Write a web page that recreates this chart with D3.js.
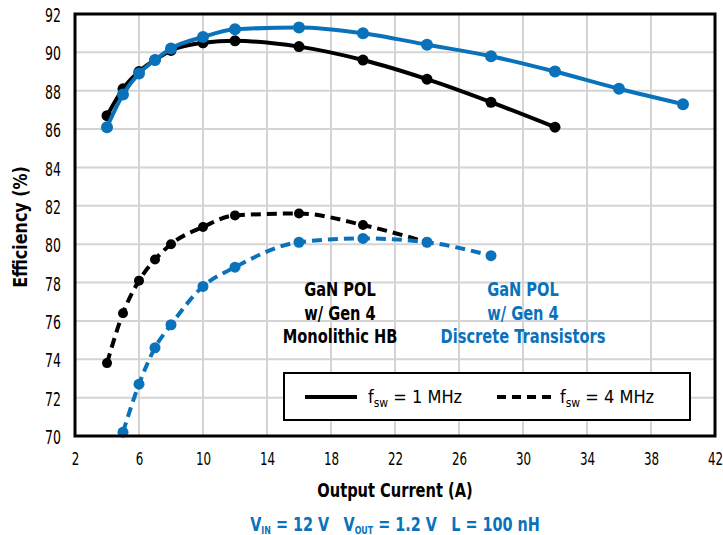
<!DOCTYPE html>
<html>
<head>
<meta charset="utf-8">
<script src="https://cdn.jsdelivr.net/npm/d3@7"></script>
<style>
  body { margin: 0; background: #fff; }
  svg text { font-family: "DejaVu Sans", sans-serif; }
</style>
</head>
<body>
<svg id="chart" width="723" height="535"></svg>
<script>
// Output current (A) for each measured point
const currentMono1 = [4, 5, 6, 7, 8, 10, 12, 16, 20, 24, 28, 32];
const effMono1     = [86.7, 88.1, 89.0, 89.6, 90.1, 90.5, 90.6, 90.3, 89.6, 88.6, 87.4, 86.1];

const currentDisc1 = [4, 5, 6, 7, 8, 10, 12, 16, 20, 24, 28, 32, 36, 40];
const effDisc1     = [86.1, 87.8, 88.9, 89.6, 90.2, 90.8, 91.2, 91.3, 91.0, 90.4, 89.8, 89.0, 88.1, 87.3];

const currentMono4 = [4, 5, 6, 7, 8, 10, 12, 16, 20, 24];
const effMono4     = [73.8, 76.4, 78.1, 79.2, 80.0, 80.9, 81.5, 81.6, 81.0, 80.1];

const currentDisc4 = [5, 6, 7, 8, 10, 12, 16, 20, 24, 28];
const effDisc4     = [70.2, 72.7, 74.6, 75.8, 77.8, 78.8, 80.1, 80.3, 80.1, 79.4];

const xTicks = [2, 6, 10, 14, 18, 22, 26, 30, 34, 38, 42];
const yTicks = [70, 72, 74, 76, 78, 80, 82, 84, 86, 88, 90, 92];

const BLUE = "#0a72bb";
const BLACK = "#000";
// horizontal squeeze that gives the wide fallback font a condensed look
const TICK_SQ = 0.66;
const BOLD_SQ = 0.77;
const COND_SQ = 0.72;
const YLAB_SQ = 0.84;
const LEG_SQ = 0.9;

const svg = d3.select("#chart");
const m = { left: 75, right: 715, top: 14, bottom: 436 };

const x = d3.scaleLinear().domain([2, 42]).range([m.left, m.right]);
const y = d3.scaleLinear().domain([70, 92]).range([m.bottom, m.top]);

// grid
const grid = svg.append("g");
grid.selectAll(".vg").data(xTicks).join("line")
  .attr("x1", d => x(d)).attr("x2", d => x(d))
  .attr("y1", m.top).attr("y2", m.bottom)
  .attr("stroke", "#d4d4d4").attr("stroke-width", 2);
grid.selectAll(".hg").data(yTicks).join("line")
  .attr("x1", m.left).attr("x2", m.right)
  .attr("y1", d => y(d)).attr("y2", d => y(d))
  .attr("stroke", "#d4d4d4").attr("stroke-width", 2);

// axes (labels only; frame drawn separately)
const xAxis = svg.append("g").attr("transform", `translate(0,${m.bottom})`)
  .call(d3.axisBottom(x).tickValues(xTicks).tickSize(0).tickPadding(16));
xAxis.select(".domain").remove();
xAxis.selectAll("text").attr("font-size", 18).attr("fill", "#000")
  .attr("transform", `scale(${TICK_SQ},1)`);

const yAxis = svg.append("g").attr("transform", `translate(${m.left},0)`)
  .call(d3.axisLeft(y).tickValues(yTicks).tickSize(0));
yAxis.select(".domain").remove();
yAxis.selectAll("text").attr("font-size", 19).attr("fill", "#000")
  .attr("x", -14 / TICK_SQ).attr("dy", "0.4em")
  .attr("transform", `scale(${TICK_SQ},1)`);

// series
const series = [
  { xs: currentMono4, ys: effMono4, color: BLACK, dash: "10,6", r: 5 },
  { xs: currentDisc4, ys: effDisc4, color: BLUE, dash: "10,6", r: 5.5 },
  { xs: currentMono1, ys: effMono1, color: BLACK, dash: null, r: 5.5 },
  { xs: currentDisc1, ys: effDisc1, color: BLUE, dash: null, r: 6 }
];

const line = d3.line().x(d => x(d[0])).y(d => y(d[1])).curve(d3.curveMonotoneX);

const plot = svg.append("g");
series.forEach(s => {
  const pts = s.xs.map((v, i) => [v, s.ys[i]]);
  plot.append("path").datum(pts)
    .attr("d", line).attr("fill", "none")
    .attr("stroke", s.color).attr("stroke-width", 4)
    .attr("stroke-dasharray", s.dash);
  plot.selectAll(null).data(pts).join("circle")
    .attr("cx", d => x(d[0])).attr("cy", d => y(d[1]))
    .attr("r", s.r).attr("fill", s.color);
});

// frame
svg.append("rect")
  .attr("x", m.left).attr("y", m.top)
  .attr("width", m.right - m.left).attr("height", m.bottom - m.top)
  .attr("fill", "none").attr("stroke", "#000").attr("stroke-width", 3);

// squeezed text anchored at (tx, ty)
const label = (parent, tx, ty, sq, rot) =>
  parent.append("text")
    .attr("transform", `translate(${tx},${ty})${rot ? " rotate(" + rot + ")" : ""} scale(${sq},1)`);

// annotations
const ann = (lines, cx, color) => {
  lines.forEach((l, i) => {
    label(svg, cx, 296 + i * 23.5, BOLD_SQ)
      .attr("text-anchor", "middle").attr("font-size", 19)
      .attr("font-weight", "bold").attr("fill", color).text(l);
  });
};
ann(["GaN POL", "w/ Gen 4", "Monolithic HB"], 340, BLACK);
ann(["GaN POL", "w/ Gen 4", "Discrete Transistors"], 523, BLUE);

// legend
const lg = svg.append("g");
lg.append("rect").attr("x", 284).attr("y", 373).attr("width", 406).attr("height", 47)
  .attr("fill", "#fff").attr("stroke", "#000").attr("stroke-width", 2);
lg.append("line").attr("x1", 305).attr("x2", 357).attr("y1", 397).attr("y2", 397)
  .attr("stroke", "#000").attr("stroke-width", 4);
lg.append("line").attr("x1", 497).attr("x2", 551).attr("y1", 397).attr("y2", 397)
  .attr("stroke", "#000").attr("stroke-width", 4).attr("stroke-dasharray", "9,6");
const legText = (xp, val) => {
  const t = label(lg, xp, 403, LEG_SQ).attr("font-size", 18).attr("fill", "#000");
  t.append("tspan").text("f");
  t.append("tspan").attr("font-size", 12).attr("dy", 4).text("sw");
  t.append("tspan").attr("dy", -4).text(" = " + val);
};
legText(368, "1 MHz");
legText(560, "4 MHz");

// axis titles
const midX = (m.left + m.right) / 2;
label(svg, midX, 497, BOLD_SQ).attr("text-anchor", "middle")
  .attr("font-size", 19).attr("font-weight", "bold").text("Output Current (A)");
label(svg, 27, 227, YLAB_SQ, -90).attr("text-anchor", "middle")
  .attr("font-size", 19).attr("font-weight", "bold").text("Efficiency (%)");

// operating conditions
const cond = label(svg, midX, 531, COND_SQ).attr("text-anchor", "middle")
  .attr("font-size", 20).attr("font-weight", "bold").attr("fill", BLUE);
cond.append("tspan").text("V");
cond.append("tspan").attr("font-size", 11).attr("dy", 3).text("IN");
cond.append("tspan").attr("dy", -3).text(" = 12 V\u2003V");
cond.append("tspan").attr("font-size", 11).attr("dy", 3).text("OUT");
cond.append("tspan").attr("dy", -3).text(" = 1.2 V\u2003L = 100 nH");
</script>
</body>
</html>
